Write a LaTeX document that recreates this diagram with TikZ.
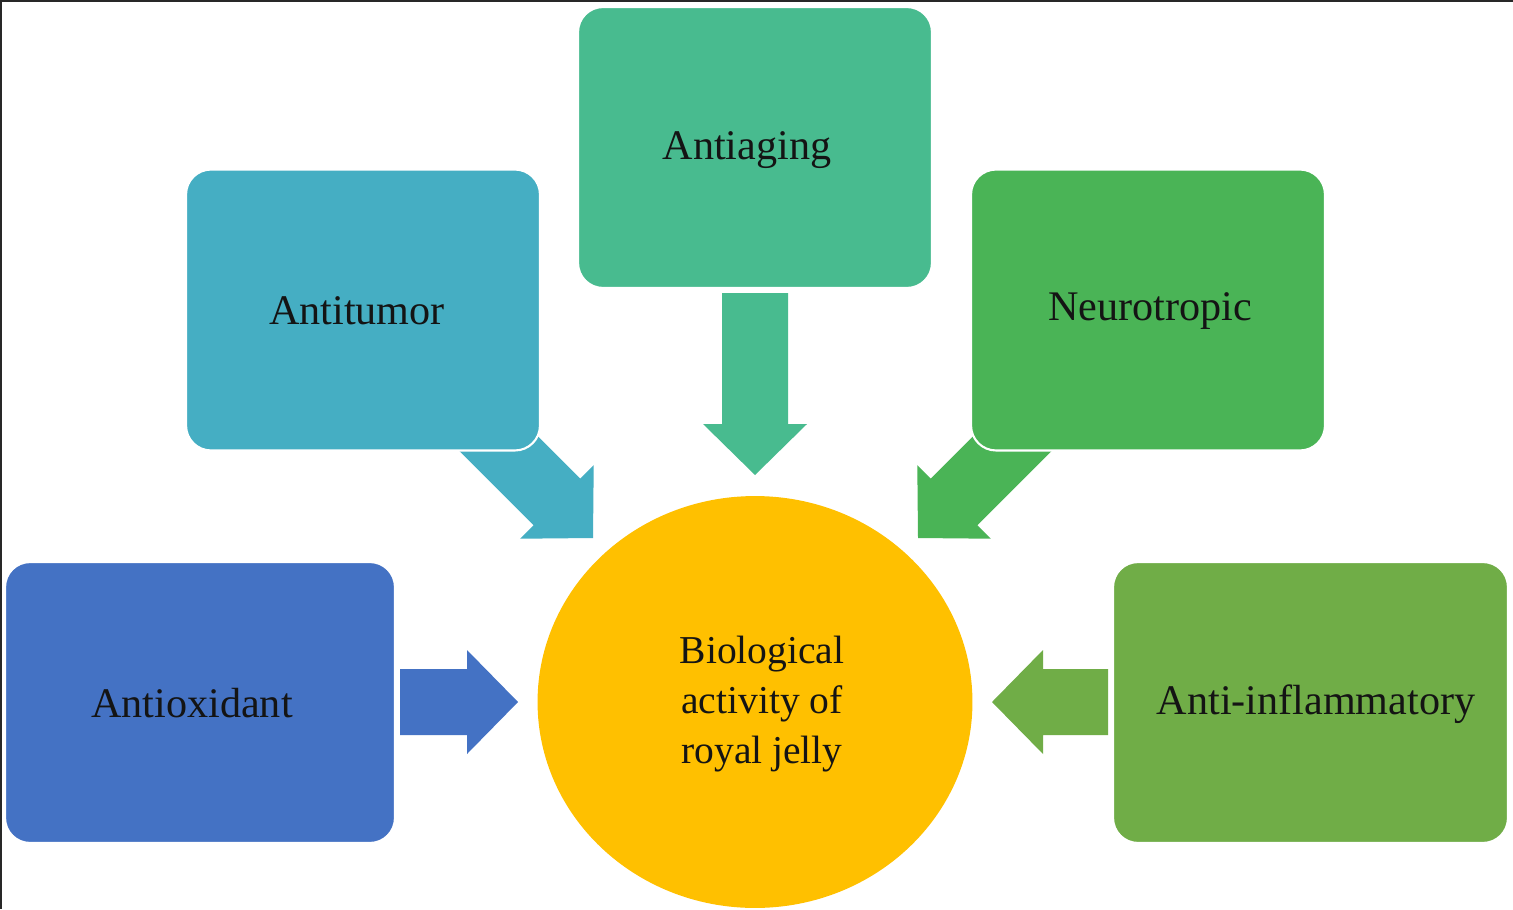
\documentclass[tikz,border=0pt]{standalone}
\usepackage{fontspec}
\setmainfont{Liberation Serif}
\usetikzlibrary{shapes.geometric}
\definecolor{cAging}{RGB}{72,187,143}
\definecolor{cTumor}{RGB}{69,174,195}
\definecolor{cNeuro}{RGB}{74,180,86}
\definecolor{cOxi}{RGB}{68,114,196}
\definecolor{cInfl}{RGB}{112,173,71}
\definecolor{cBio}{RGB}{255,192,0}
\definecolor{cText}{RGB}{20,20,20}
\definecolor{cFrame}{RGB}{40,40,40}
\tikzset{
  box/.style={rectangle, rounded corners=0.5cm, draw=white, line width=1.2pt,
    minimum width=7.08cm, minimum height=5.62cm, inner sep=0pt},
  label/.style={text=cText, font=\fontsize{24}{28.5}\selectfont, align=center},
  pics/blockarrow/.style={code={%
    \fill (0,0) -- (-51,52) -- (-51,33) -- (-#1,33) -- (-#1,-33)
      -- (-51,-33) -- (-51,-52) -- cycle;}},
}
\begin{document}
\begin{tikzpicture}[x=0.02cm, y=-0.02cm]
\useasboundingbox (0,0) rectangle (1513,909);
\fill[white] (0,0) rectangle (1513,909);
% arrow tips
\coordinate (tumT) at (593,538);
\coordinate (neuT) at (918,538);
\coordinate (agT) at (755,475);
\coordinate (oxT) at (518,702);
\coordinate (inT) at (992,702);
% arrows (behind boxes)
\pic[fill=cTumor, rotate=-45] at (tumT) {blockarrow=170};
\pic[fill=cNeuro, rotate=-135] at (neuT) {blockarrow=170};
\pic[fill=cAging, rotate=-90] at (agT) {blockarrow=182};
\pic[fill=cOxi] at (oxT) {blockarrow=118};
\pic[fill=cInfl, rotate=180] at (inT) {blockarrow=116};
% boxes
\node[box, fill=cAging] (aging) at (755,147.5) {};
\node[label] (agingText) at (747,150) {Antiaging};
\node[box, fill=cTumor] (tumor) at (363,310) {};
\node[label] (tumorText) at (357,311) {Antitumor};
\node[box, fill=cNeuro] (neuro) at (1148,310) {};
\node[label] (neuroText) at (1150,311) {Neurotropic};
\node[box, fill=cOxi, minimum width=7.8cm] (oxi) at (200,702.5) {};
\node[label] (oxiText) at (192,703) {Antioxidant};
\node[box, fill=cInfl, minimum width=7.9cm] (infl) at (1310.5,702.5) {};
\node[label] (inflText) at (1316,704) {Anti-inflammatory};
% center
\node[ellipse, fill=cBio, minimum width=8.7cm, minimum height=8.24cm, inner sep=0pt] (bio) at (755,702) {};
\node[label, font=\fontsize{22.5}{28.5}\selectfont] (bioText) at (762,704) {Biological\\activity of\\royal jelly};
% frame
\draw[cFrame, line width=2pt] (0,909) -- (0,0) -- (1513,0);
\end{tikzpicture}
\end{document}
